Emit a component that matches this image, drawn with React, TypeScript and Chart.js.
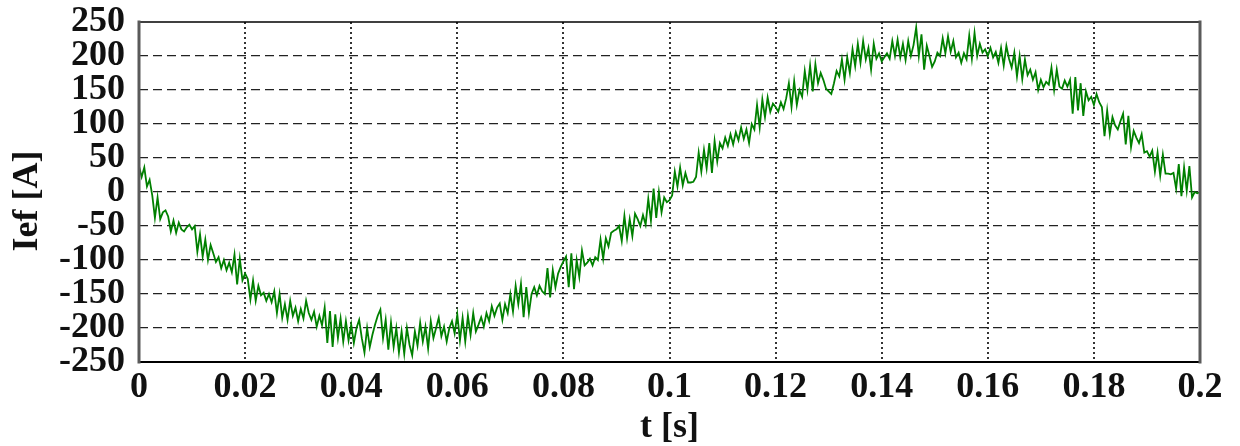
import { useEffect, useRef } from "react";
import { Chart, registerables } from "chart.js";

Chart.register(...registerables);

// Sampling interval of the recorded current, seconds
const SAMPLE_STEP = 0.0005;

// Field current samples [A], one row per 10 ms (20 samples each), 0 … 0.2 s
const currentSamples: number[] = [
  38, 22, 36, 8, 18, -5, -38, -8, -40, -30, -27, -36, -58, -42, -60, -45, -55, -58, -52, -48,
  -55, -50, -88, -62, -95, -70, -100, -78, -90, -103, -96, -112, -100, -115, -104, -118, -92, -136, -98, -130,
  -120, -128, -158, -130, -160, -138, -152, -148, -160, -150, -162, -146, -178, -150, -185, -165, -188, -160, -182, -170,
  -190, -172, -186, -160, -178, -188, -176, -198, -182, -196, -170, -222, -175, -228, -180, -215, -186, -220, -190, -218,
  -195, -222, -200, -188, -215, -236, -200, -228, -210, -195, -182, -173, -215, -188, -232, -192, -228, -200, -236, -205,
  -238, -200, -225, -240, -205, -226, -192, -220, -198, -230, -190, -215, -200, -185, -212, -198, -220, -200, -190, -208,
  -180, -218, -185, -220, -182, -210, -178, -205, -195, -184, -198, -178, -190, -168, -182, -170, -164, -188, -165, -178,
  -150, -176, -138, -165, -135, -184, -140, -178, -150, -140, -152, -138, -146, -150, -112, -155, -115, -140, -120, -110,
  -102, -95, -140, -90, -143, -100, -125, -86, -108, -104, -98, -108, -96, -100, -70, -98, -68, -80, -60, -57,
  -55, -50, -72, -35, -68, -40, -65, -32, -40, -50, -34, -48, -10, -42, 5, -38, 0, -30, -8, -15,
  -12, -5, 30, 8, 36, 10, 28, 14, 14, 15, 22, 58, 30, 62, 35, 72, 28, 75, 45, 72,
  64, 80, 68, 85, 70, 88, 76, 95, 78, 92, 72, 100, 92, 128, 95, 136, 110, 139, 118, 130,
  125, 118, 132, 122, 138, 160, 125, 163, 128, 150, 140, 178, 150, 186, 148, 188, 160, 175, 165, 152,
  148, 144, 160, 178, 170, 195, 165, 198, 175, 210, 185, 218, 190, 222, 195, 212, 180, 218, 196, 204,
  192, 198, 204, 196, 222, 200, 224, 198, 218, 194, 222, 200, 216, 242, 200, 232, 180, 215, 200, 184,
  192, 205, 200, 226, 204, 229, 206, 222, 198, 205, 190, 204, 195, 230, 196, 234, 200, 218, 205, 210,
  200, 212, 198, 206, 190, 212, 186, 215, 196, 183, 205, 170, 200, 166, 195, 172, 180, 165, 176, 150,
  165, 154, 162, 158, 183, 150, 180, 155, 152, 164, 155, 165, 115, 169, 120, 160, 112, 148, 135, 140,
  128, 144, 132, 125, 82, 120, 85, 110, 98, 92, 104, 115, 70, 112, 66, 90, 80, 72, 85, 58,
  60, 52, 61, 30, 58, 24, 55, 27, 27, 26, 28, 5, 41, -6, 36, 2, 38, -8, 0, -2,
  0,
];

// Axis tick labels
const timeTickLabels = ["0", "0.02", "0.04", "0.06", "0.08", "0.1", "0.12", "0.14", "0.16", "0.18", "0.2"];
const currentTickLabels = ["-250", "-200", "-150", "-100", "-50", "0", "50", "100", "150", "200", "250"];

const X_TITLE = "t [s]";
// trailing spaces nudge the rotated title slightly below the axis midpoint
const Y_TITLE = "Ief [A]  ";

const FONT_FAMILY = '"Liberation Serif", "Times New Roman", Times, serif';
const LINE_GREEN = "#008000";

// Box around the plotting area: black top/bottom, grey left/right
const framePlugin = {
  id: "frame",
  afterDatasetsDraw(chart: any) {
    const { ctx, chartArea } = chart;
    const { left, right, top, bottom } = chartArea;
    const seg = (x1: number, y1: number, x2: number, y2: number, color: string, width: number) => {
      ctx.beginPath();
      ctx.strokeStyle = color;
      ctx.lineWidth = width;
      ctx.moveTo(x1, y1);
      ctx.lineTo(x2, y2);
      ctx.stroke();
    };
    ctx.save();
    ctx.setLineDash([]);
    ctx.lineCap = "square";
    seg(left, top, right, top, "#000", 1.5);
    seg(left, bottom, right, bottom, "#000", 2);
    seg(left, top, left, bottom, "#5a5a5a", 3);
    seg(right, top, right, bottom, "#5a5a5a", 3);
    ctx.restore();
  },
};

export default function App() {
  const canvasRef = useRef<HTMLCanvasElement | null>(null);

  useEffect(() => {
    const canvas = canvasRef.current;
    if (!canvas) return;

    const points = currentSamples.map((v, i) => ({ x: i * SAMPLE_STEP, y: v }));
    const lastIndex = timeTickLabels.length - 1;

    const chart = new Chart(canvas, {
      type: "line",
      data: {
        datasets: [
          {
            data: points,
            borderColor: LINE_GREEN,
            borderWidth: 1.8,
            pointRadius: 0,
            tension: 0,
            fill: false,
          },
        ],
      },
      plugins: [framePlugin],
      options: {
        responsive: false,
        maintainAspectRatio: false,
        animation: false,
        parsing: false,
        normalized: true,
        layout: { padding: { left: 0, top: 22, right: 40, bottom: 0 } },
        plugins: {
          legend: { display: false },
          tooltip: { enabled: false },
        },
        scales: {
          x: {
            type: "linear",
            min: 0,
            max: 0.2,
            afterFit: (scale: any) => {
              scale.height = 84;
              scale.paddingLeft = 0;
              scale.paddingRight = 0;
            },
            ticks: {
              stepSize: 0.02,
              autoSkip: false,
              maxRotation: 0,
              padding: 8,
              color: "#111",
              font: { family: FONT_FAMILY, size: 36, weight: "bold", lineHeight: 1 },
              callback: (_v: any, i: number) => timeTickLabels[i],
            },
            grid: {
              drawTicks: false,
              lineWidth: 2,
              color: (c: any) => (c.index === 0 || c.index === lastIndex ? "rgba(0,0,0,0)" : "#333"),
            },
            border: { display: false, dash: [2, 3] },
            title: {
              display: true,
              text: X_TITLE,
              color: "#111",
              font: { family: FONT_FAMILY, size: 36, weight: "bold", lineHeight: 1 },
              padding: { top: 0, bottom: 0 },
            },
          },
          y: {
            type: "linear",
            min: -250,
            max: 250,
            afterFit: (scale: any) => {
              scale.width = 139;
              scale.paddingTop = 0;
              scale.paddingBottom = 0;
            },
            ticks: {
              stepSize: 50,
              autoSkip: false,
              padding: 14,
              color: "#111",
              font: { family: FONT_FAMILY, size: 36, weight: "bold", lineHeight: 1 },
              callback: (_v: any, i: number) => currentTickLabels[i],
            },
            grid: {
              drawTicks: false,
              lineWidth: 1.2,
              color: (c: any) => (c.index === 0 || c.index === currentTickLabels.length - 1 ? "rgba(0,0,0,0)" : "#222"),
            },
            border: { display: false, dash: [9, 5] },
            title: {
              display: true,
              text: Y_TITLE,
              color: "#111",
              font: { family: FONT_FAMILY, size: 36, weight: "bold", lineHeight: 1.2 },
              padding: { top: 6, bottom: 0 },
            },
          },
        },
      },
    } as any);

    return () => chart.destroy();
  }, []);

  return (
    <div style={{ position: "fixed", left: 0, top: 0, width: 1240, height: 446, background: "#fff" }}>
      <canvas ref={canvasRef} width={1240} height={446} style={{ display: "block" }} />
    </div>
  );
}
